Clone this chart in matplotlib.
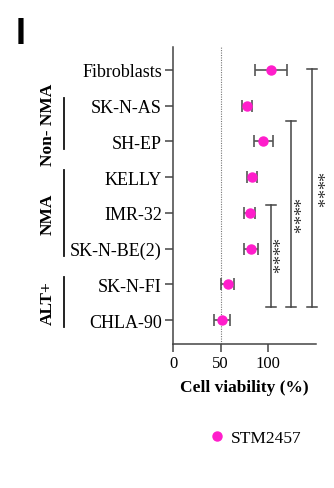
import matplotlib
matplotlib.use("Agg")
import matplotlib.pyplot as plt
from matplotlib.lines import Line2D

# Cell lines (top to bottom) and STM2457 viability (% of control)
cell_lines = ["Fibroblasts", "SK-N-AS", "SH-EP", "KELLY", "IMR-32",
              "SK-N-BE(2)", "SK-N-FI", "CHLA-90"]
viability = [103, 77.5, 94.5, 83, 80.5, 82, 57.5, 51]
viability_err = [17, 5, 10, 5, 5.5, 7, 7, 8.5]

x_ticks = [0, 50, 100]
x_label = "Cell viability (%)"
legend_label = "STM2457"
panel_label = "I"

# Group annotations: (label, first row, last row)
groups = [("Non- NMA", 1, 2), ("NMA", 3, 5), ("ALT+", 6, 7)]

# Significance brackets: (x position, top row, bottom row, label)
brackets = [(103, 3.78, 6.63, "****"),
            (124, 1.44, 6.63, "****"),
            (146, -0.03, 6.63, "****")]
# anchor of each rotated asterisk string (the glyphs sit high in the line box)
star_pos = [(101.5, 5.18), (123.5, 4.06), (148.5, 3.33)]

serif = ["Liberation Serif", "DejaVu Serif"]
pink = "#FF1DCB"
dark = "#444444"

fig = plt.figure(figsize=(3.34, 4.89), dpi=100)
ax = fig.add_axes([0.518, 0.2945, 0.428, 0.6073])

rows = list(range(len(cell_lines)))
ax.axvline(50, color="#777777", lw=0.8, ls=(0, (1, 1.2)), zorder=1)
ax.errorbar(viability, rows, xerr=viability_err, fmt="o", color=pink,
            ecolor="#555555", elinewidth=1.2, capsize=4, capthick=1.2,
            markersize=6.5, zorder=3)

ax.set_xlim(0, 150)
ax.set_ylim(7.67, -0.64)
ax.set_yticks(rows)
ax.set_yticklabels(cell_lines, fontfamily=serif, fontsize=13)
ax.set_xticks(x_ticks)
ax.set_xticklabels([str(t) for t in x_ticks], fontfamily=serif, fontsize=12)
ax.set_xlabel(x_label, fontfamily=serif, fontsize=12.5, fontweight="bold",
              labelpad=6)
for side in ("top", "right"):
    ax.spines[side].set_visible(False)
for side in ("left", "bottom"):
    ax.spines[side].set_color(dark)
    ax.spines[side].set_linewidth(1.1)
ax.tick_params(axis="both", length=6, width=1.1, color=dark, pad=2)

# Significance brackets with stacked asterisks
cap = 5.3
for bx, top, bottom, lab in brackets:
    ax.plot([bx, bx], [top, bottom], color=dark, lw=1.1, clip_on=False)
    for yy in (top, bottom):
        ax.plot([bx - cap, bx + cap], [yy, yy], color=dark, lw=1.1,
                clip_on=False)
for (sx, sy), (_, _, _, lab) in zip(star_pos, brackets):
    ax.text(sx, sy, lab, rotation=270, ha="center", va="center",
            fontfamily=serif, fontsize=13, color="#333333", clip_on=False)

# Group labels with vertical bars
trans = ax.get_yaxis_transform()
for lab, r0, r1 in groups:
    ax.plot([-0.762, -0.762], [r0 - 0.2, r1 + 0.2], color="#111111", lw=1.3,
            transform=trans, clip_on=False)
    ax.text(-0.874, (r0 + r1) / 2, lab, rotation=90, ha="center",
            va="center", fontfamily=serif, fontsize=12.5, fontweight="bold",
            transform=trans)

handle = Line2D([], [], marker="o", ls="none", color=pink, markersize=6.5)
fig.legend([handle], [legend_label], loc="center",
           bbox_to_anchor=(0.762, 0.102), frameon=False,
           prop={"family": serif, "size": 12.5}, handletextpad=0.3,
           handlelength=1.0)

fig.text(0.048, 0.93, panel_label, fontfamily=["Liberation Sans", "DejaVu Sans"],
         fontsize=26, fontweight="bold", ha="left", va="center")

fig.savefig("out.png", dpi=100)
